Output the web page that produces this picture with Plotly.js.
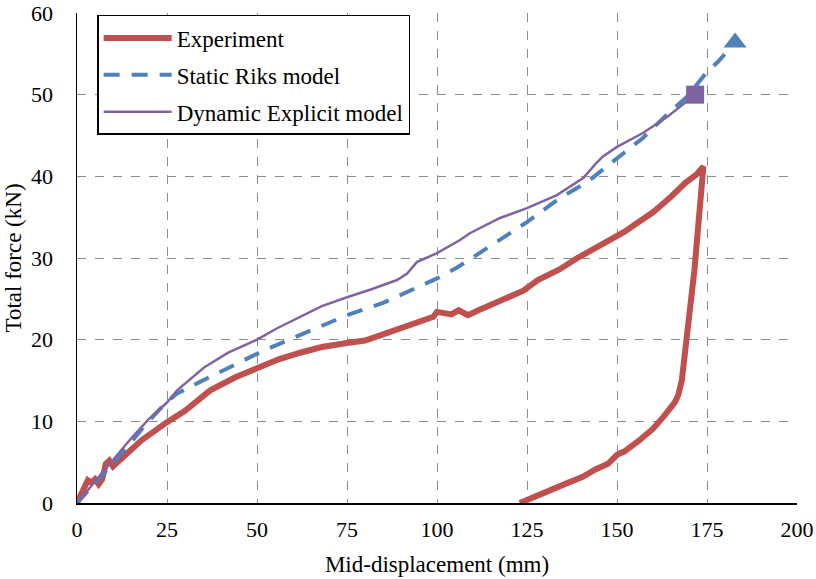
<!DOCTYPE html>
<html>
<head>
<meta charset="utf-8">
<script src="https://cdn.plot.ly/plotly-3.0.1.min.js"></script>
<style>html,body{margin:0;padding:0;background:#fff;}#chart{width:816px;height:579px;}</style>
</head>
<body>
<div id="chart"></div>
<script>
// Experiment (loading and unloading)
const expX = [0, 1, 3, 4, 5, 6, 7, 8, 9, 10, 11, 14, 18, 25, 30, 37, 44, 50, 56, 62, 68, 75, 80, 86, 92, 96, 99, 100, 102, 104, 106, 107, 108.6, 112, 118, 124, 128, 134, 139, 144, 148, 152, 156, 160, 165, 169, 172, 174,
  171.5, 168, 167, 166, 163, 160, 156, 152, 150, 147.5, 144, 140.5, 136, 130.5, 127, 123];
const expY = [0, 0.9, 2.8, 2.5, 2.9, 2.3, 2.9, 4.8, 5.2, 4.5, 4.9, 6.1, 7.7, 9.9, 11.3, 13.8, 15.4, 16.5, 17.6, 18.4, 19.1, 19.6, 19.9, 20.8, 21.7, 22.2, 22.8, 23.4, 23.2, 23.1, 23.6, 23.3, 23.0, 23.7, 24.9, 26.0, 27.3, 28.6, 30.0, 31.2, 32.2, 33.2, 34.4, 35.6, 37.5, 39.2, 40.2, 41.2,
  28.5, 15, 13.2, 12.3, 10.6, 9.1, 7.6, 6.3, 5.9, 4.8, 4.1, 3.2, 2.4, 1.35, 0.8, 0];
// Static Riks model
const riksX = [0, 5, 10, 15, 19.4, 25, 27.8, 34, 42.5, 52, 60, 67, 75, 85, 94.4, 100, 105.5, 109, 118.3, 125, 134, 141.7, 150, 157.2, 164.7, 169.4, 175, 178, 182.8];
const riksY = [0, 2.4, 4.9, 7.4, 9.8, 12.4, 13.4, 14.8, 16.6, 18.7, 20.2, 21.5, 23.0, 24.5, 26.3, 27.5, 28.8, 29.8, 32.6, 34.4, 37.3, 39.3, 42.2, 44.7, 47.9, 49.7, 52.8, 54.0, 56.4];
// Dynamic Explicit model
const dynX = [0, 5, 10, 15, 20, 25, 27.8, 35.3, 42, 50, 55.6, 62, 68, 75, 82, 88.9, 91.7, 94.4, 100, 106.4, 109, 117.5, 125, 133.3, 140.6, 144, 146, 150, 157.2, 164, 171.7];
const dynY = [0, 2.6, 5.3, 7.9, 10.3, 12.3, 13.8, 16.6, 18.4, 20.0, 21.4, 22.8, 24.1, 25.2, 26.2, 27.3, 28.1, 29.5, 30.6, 32.2, 33.0, 34.9, 36.1, 37.7, 39.8, 41.5, 42.4, 43.6, 45.3, 47.3, 50.0];
const xTicks = [0, 25, 50, 75, 100, 125, 150, 175, 200];
const yTicks = [0, 10, 20, 30, 40, 50, 60];

const red = '#C0504D', blue = '#4F81BD', purple = '#8064A2';
const serif = "'Liberation Serif', 'Times New Roman', serif";

const traces = [
  {x: expX, y: expY, mode: 'lines', name: 'Experiment', legendgroup: 'a',
   line: {color: red, width: 6, shape: 'linear'}},
  {x: riksX, y: riksY, mode: 'lines', name: 'Static Riks model', legendgroup: 'b',
   line: {color: blue, width: 4, dash: '16px,12px'}},
  {x: dynX, y: dynY, mode: 'lines', name: 'Dynamic Explicit model', legendgroup: 'c',
   line: {color: purple, width: 2.5}},
  {x: [riksX[riksX.length-1]], y: [riksY[riksY.length-1]], mode: 'markers', showlegend: false,
   marker: {symbol: 'triangle-up', size: 20, color: blue}},
  {x: [dynX[dynX.length-1]], y: [dynY[dynY.length-1]], mode: 'markers', showlegend: false,
   marker: {symbol: 'square', size: 18, color: purple}}
];

const layout = {
  width: 816, height: 579,
  margin: {l: 77, r: 19, t: 13, b: 76},
  paper_bgcolor: '#fff', plot_bgcolor: '#fff',
  font: {family: serif, color: '#000', size: 20},
  showlegend: true,
  legend: {x: 0.028, y: 0.996, xanchor: 'left', yanchor: 'top',
    bgcolor: '#fff', bordercolor: '#000', borderwidth: 1.5,
    font: {family: serif, size: 23, color: '#000'}, itemwidth: 68, tracegroupgap: 4},
  xaxis: {range: [0, 200], tickvals: xTicks, ticktext: xTicks.map(String),
    showgrid: true, gridcolor: '#8c8c8c', griddash: 'dash', gridwidth: 1,
    showline: true, linecolor: '#000', linewidth: 1.5, zeroline: false, ticks: '',
    tickfont: {family: serif, size: 22, color: '#000'}, ticklabelstandoff: 6,
    title: {text: 'Mid-displacement (mm)', font: {family: serif, size: 23, color: '#000'}, standoff: 15}},
  yaxis: {range: [0, 60], tickvals: yTicks, ticktext: yTicks.map(String),
    showgrid: true, gridcolor: '#8c8c8c', griddash: 'dash', gridwidth: 1,
    showline: true, linecolor: '#000', linewidth: 1.5, zeroline: false, ticks: '',
    tickfont: {family: serif, size: 22, color: '#000'}, ticklabelstandoff: 18,
    title: {text: 'Total force (kN)', font: {family: serif, size: 23, color: '#000'}, standoff: 3}}
};

Plotly.newPlot('chart', traces, layout, {displayModeBar: false, staticPlot: true});
</script>
</body>
</html>
